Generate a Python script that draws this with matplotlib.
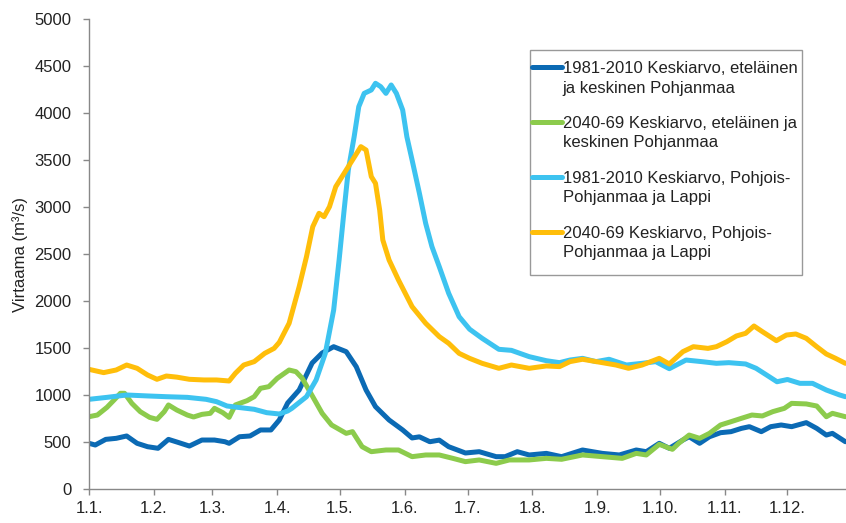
import numpy as np
import matplotlib
matplotlib.use("Agg")
import matplotlib.pyplot as plt
from matplotlib.legend_handler import HandlerLine2D
from matplotlib.lines import Line2D
from matplotlib.patches import Rectangle

plt.rcParams['font.family'] = ['Liberation Sans', 'DejaVu Sans']

# ---- data (day of year, flow m3/s) ----
south_8110_days = [0, 3, 8, 13, 18, 23, 28, 33, 38, 43, 48, 54, 60, 65, 67, 72, 77, 82, 87, 91, 95,
                   100.5, 106.7, 111.5, 117, 123, 127.8, 132.5, 137, 143.5, 150, 154.5, 158, 163, 167.5,
                   172, 180, 186.6, 194.7, 199, 204.8, 210.5, 218.7, 226, 236, 245.5, 253.6, 261.7,
                   266.5, 272.7, 277.5, 284, 287, 292, 296.7, 302, 307, 312, 315.8, 321.5, 326, 331,
                   336, 343, 348, 352.6, 355.5, 361.7]
south_8110_vals = [486, 468, 528, 539, 564, 486, 450, 433, 528, 493, 457, 521, 521, 503, 486, 556, 564,
                   628, 628, 734, 915, 1053, 1340, 1447, 1514, 1461, 1301, 1053, 876, 734, 628, 543,
                   555, 503, 520, 450, 383, 397, 344, 344, 397, 362, 379, 344, 415, 379, 362, 415,
                   397, 486, 433, 521, 556, 486, 556, 599, 610, 645, 663, 610, 663, 681, 663, 706,
                   645, 574, 592, 503]

south_4069_days = [0, 4, 8.6, 12, 15, 17, 20.5, 24.5, 29, 32.5, 36, 38, 42, 47, 50, 54, 58, 60, 64, 67,
                   70, 75.6, 79, 82, 86, 90, 95.7, 99, 102, 107, 111.5, 116, 123, 126, 130.6, 135, 142,
                   148, 154.5, 161, 167.5, 174, 180, 186.6, 194.7, 201, 210.5, 218.7, 226, 236, 245.5,
                   255, 261.7, 266.5, 272.7, 279, 282, 287, 292, 296.7, 302, 307, 312, 317, 322, 327,
                   332.5, 336, 343, 348, 352.6, 355.5, 361.7]
south_4069_vals = [769, 787, 869, 947, 1018, 1018, 911, 823, 762, 741, 823, 894, 840, 787, 766, 794,
                   805, 858, 812, 762, 894, 940, 982, 1071, 1089, 1177, 1266, 1248, 1177, 982, 805,
                   681, 592, 610, 450, 397, 415, 415, 344, 362, 362, 326, 291, 309, 273, 309, 309,
                   326, 316, 362, 344, 326, 379, 362, 475, 422, 486, 574, 539, 592, 681, 716, 752,
                   787, 777, 823, 858, 911, 905, 883, 769, 805, 769]

north_8110_days = [0, 8.6, 18, 28, 37, 47, 56, 61, 66, 71, 79, 85, 91, 95, 97, 104, 108.6, 113, 117,
                   119.6, 122, 124, 126.8, 129, 131.6, 135, 137, 139.5, 142, 144.5, 147, 150, 152,
                   154.5, 158, 161, 164, 167.5, 172, 177, 182, 188, 196, 202, 210.5, 218.7, 225, 230,
                   236, 242.5, 248.7, 257, 264.5, 271, 277.5, 285.5, 293, 300, 306, 314, 319, 324,
                   329, 334, 340, 346, 352.6, 359, 361.7]
north_8110_vals = [954, 975, 1000, 990, 982, 975, 954, 929, 883, 869, 848, 812, 798, 830, 858, 982,
                   1160, 1443, 1904, 2436, 2968, 3394, 3748, 4067, 4209, 4245, 4316, 4280, 4209,
                   4298, 4209, 4032, 3748, 3500, 3146, 2826, 2578, 2365, 2082, 1833, 1700, 1603,
                   1486, 1475, 1408, 1365, 1344, 1372, 1390, 1355, 1380, 1319, 1337, 1355, 1280,
                   1372, 1355, 1337, 1344, 1330, 1284, 1213, 1141, 1165, 1124, 1124, 1053, 1000, 982]

north_4069_days = [0, 7, 13, 18, 23, 28, 32.5, 37, 42, 48, 55, 61, 67, 70, 74, 79, 84, 88.5, 91, 95.7,
                   100.5, 104, 107, 110, 112.4, 115, 118, 122, 126, 130, 132.5, 135, 137, 139, 140.5,
                   143.5, 148, 154.5, 161, 167.5, 172, 177, 182, 188, 196, 202, 210.5, 218.7, 225,
                   230, 236, 245.5, 252, 258, 264.5, 272.7, 277.5, 284, 289, 296, 300, 305, 309.6,
                   314, 318, 322, 328.7, 333.5, 338, 343, 348, 352.6, 357, 361.7]
north_4069_vals = [1273, 1238, 1266, 1319, 1284, 1213, 1167, 1202, 1190, 1167, 1160, 1160, 1149, 1231,
                   1319, 1355, 1443, 1496, 1560, 1763, 2152, 2471, 2790, 2933, 2897, 3003, 3216, 3358,
                   3500, 3642, 3606, 3323, 3252, 2968, 2649, 2436, 2223, 1940, 1763, 1621, 1550, 1443,
                   1390, 1337, 1284, 1319, 1284, 1309, 1302, 1355, 1380, 1344, 1319, 1284, 1319, 1390,
                   1330, 1461, 1514, 1496, 1514, 1567, 1628, 1656, 1734, 1674, 1578, 1638, 1649, 1603,
                   1514, 1436, 1390, 1337]

labels = ["1981-2010 Keskiarvo, eteläinen\nja keskinen Pohjanmaa",
          "2040-69 Keskiarvo, eteläinen ja\nkeskinen Pohjanmaa",
          "1981-2010 Keskiarvo, Pohjois-\nPohjanmaa ja Lappi",
          "2040-69 Keskiarvo, Pohjois-\nPohjanmaa ja Lappi"]
colors = ["#0B6AB4", "#8CCB4C", "#3DC3F0", "#FFBE0A"]

month_ticks = [0, 31, 59, 90, 120, 151, 181, 212, 243, 273, 304, 334]
month_labels = ["1.1.", "1.2.", "1.3.", "1.4.", "1.5.", "1.6.", "1.7.", "1.8.", "1.9.", "1.10.",
                "1.11.", "1.12."]
y_ticks = list(range(0, 5001, 500))

# ---- figure ----
W, H = 846, 523
fig = plt.figure(figsize=(W / 100, H / 100), dpi=100)
ax = fig.add_axes([89 / W, 34 / H, (846 - 89) / W, (489 - 19) / H])

series = [(south_8110_days, south_8110_vals), (south_4069_days, south_4069_vals),
          (north_8110_days, north_8110_vals), (north_4069_days, north_4069_vals)]
handles = []
for (d, v), c, lab in zip(series, colors, labels):
    ln, = ax.plot(d, v, color=c, lw=3.6, solid_joinstyle='round', solid_capstyle='round',
                  label=lab)
    handles.append(ln)

ax.set_xlim(0, 362)
ax.set_ylim(0, 5000)
ax.set_xticks(month_ticks)
ax.set_xticklabels(month_labels)
ax.set_yticks(y_ticks)
ax.tick_params(axis='both', labelsize=12, colors='#888888', labelcolor='#222222',
               direction='out', length=4.5, width=1)
ax.tick_params(axis='y', pad=8)
ax.tick_params(axis='x', pad=4)
for s in ['top', 'right']:
    ax.spines[s].set_visible(False)
for s in ['left', 'bottom']:
    ax.spines[s].set_color('#888888')
    ax.spines[s].set_linewidth(1)

ax.set_ylabel("Virtaama (m³/s)", fontsize=12, color='#222222', labelpad=5)


class TopHandler(HandlerLine2D):
    def create_artists(self, legend, orig_handle, xdescent, ydescent, width, height,
                       fontsize, trans):
        arts = super().create_artists(legend, orig_handle, xdescent, ydescent, width, height,
                                      fontsize, trans)
        for a in arts:
            if isinstance(a, Line2D):
                a.set_ydata(np.asarray(a.get_ydata()) + 0.68 * fontsize)
        return arts


# legend frame (drawn separately so the padding matches the reference)
ax.add_patch(Rectangle((530 / W, 1 - 275 / H), (802 - 530) / W, (275 - 50) / H,
                       transform=fig.transFigure, facecolor='white', clip_on=False,
                       edgecolor='#999999', linewidth=1, zorder=4))

leg = ax.legend(handles=handles, loc='upper left', bbox_to_anchor=(532 / W, 1 - 61 / H),
                bbox_transform=fig.transFigure, fontsize=12, frameon=False,
                borderpad=0, handlelength=1.8, handletextpad=0.05,
                labelspacing=1.22, borderaxespad=0,
                handler_map={Line2D: TopHandler()})
leg.set_zorder(5)
for t in leg.get_texts():
    t.set_color('#222222')
    t.set_linespacing(1.38)

fig.savefig("out.png", dpi=100)
